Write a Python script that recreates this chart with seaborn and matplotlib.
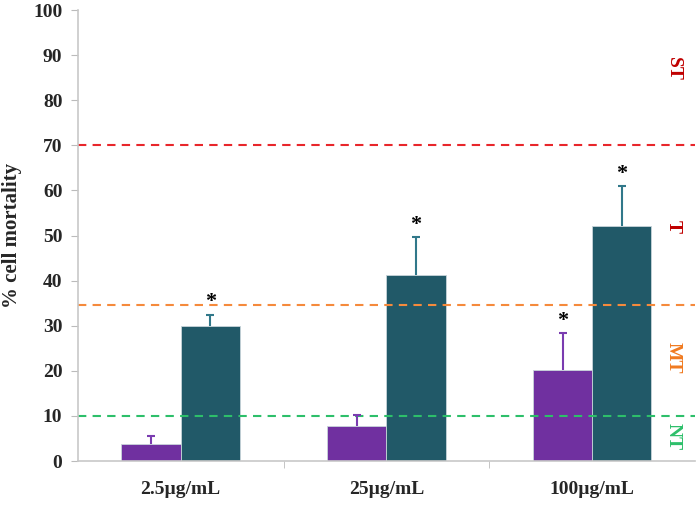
import numpy as np
import pandas as pd
import matplotlib
matplotlib.use("Agg")
import matplotlib.pyplot as plt
import seaborn as sns

# data
doses = ["2.5µg/mL", "25µg/mL", "100µg/mL"]
series = ["A", "B"]
vals_a = [3.7, 7.8, 20.3]
err_a = [1.8, 2.5, 8.0]
vals_b = [29.9, 41.3, 52.1]
err_b = [2.6, 8.4, 8.9]
star_a = [False, False, True]
star_b = [True, True, True]

thresholds = [70, 34.5, 10]
thr_colors = ["#E8262B", "#F58A3C", "#2DBF6A"]
zone_labels = ["ST", "T", "MT", "NT"]
zone_pos = [87, 52, 23, 5.5]
zone_colors = ["#C00000", "#C00000", "#F07A20", "#2DBF6A"]

sns.set_style("white")
plt.rcParams["font.family"] = ["Liberation Serif", "DejaVu Serif"]
plt.rcParams["font.weight"] = "bold"
plt.rcParams["axes.labelweight"] = "bold"

df = pd.DataFrame({
    "dose": doses * 2,
    "series": [series[0]] * 3 + [series[1]] * 3,
    "value": vals_a + vals_b,
})

fig = plt.figure(figsize=(7, 5.05), dpi=100)
ax = fig.add_axes([0.111, 0.087, 0.882, 0.893])

pal = {"A": "#7030A0", "B": "#215968"}
sns.barplot(data=df, x="dose", y="value", hue="series", palette=pal,
            width=0.575, errorbar=None, legend=False, ax=ax,
            edgecolor="#c8d4da", linewidth=0.6, saturation=1)

# error bars (upper only) and stars from bar geometry
errs = err_a + err_b
stars = star_a + star_b
ecol = ["#7a3cb0"] * 3 + ["#31788a"] * 3
for i, p in enumerate(ax.patches[:6]):
    xc = p.get_x() + p.get_width() / 2
    h = p.get_height()
    _, caps, _ = ax.errorbar(xc, h, yerr=[[0], [errs[i]]], fmt="none", ecolor=ecol[i],
                             elinewidth=1.5, capsize=3, capthick=1.5, zorder=3)
    caps[0].set_visible(False)
    if stars[i]:
        ax.text(xc, h + errs[i] + 0.5, "*", ha="center", va="bottom",
                fontsize=16, fontweight="bold", color="black")

for y, c in zip(thresholds, thr_colors):
    ax.axhline(y, color=c, ls=(0, (4, 3)), lw=1.5, zorder=1)

for lab, y, c in zip(zone_labels, zone_pos, zone_colors):
    ax.text(0.965, y, lab, transform=ax.get_yaxis_transform(), rotation=270,
            ha="center", va="center", fontsize=14, fontweight="bold", color=c)

ax.set_ylim(0, 100)
ax.set_xlim(-0.5, 2.5)
ax.set_yticks(range(0, 101, 10))
ax.set_xlabel("")
ax.set_ylabel("% cell mortality", fontsize=15, fontweight="bold", labelpad=8)
ax.tick_params(axis="both", labelsize=14)
ax.tick_params(axis="x", length=0, pad=14)
ax.set_xticks([0.5, 1.5], minor=True)
ax.tick_params(axis="x", which="minor", length=5, color="#bbbbbb", direction="out", bottom=True)
ax.tick_params(axis="y", length=5, color="#bbbbbb", direction="out", left=True, pad=6)

sns.despine(ax=ax, top=True, right=True)
ax.spines["left"].set_color("#c8c8c8")
ax.spines["bottom"].set_color("#c8c8c8")
ax.spines["left"].set_linewidth(1.2)
ax.spines["bottom"].set_linewidth(1.2)

fig.savefig("out.png", dpi=100)
